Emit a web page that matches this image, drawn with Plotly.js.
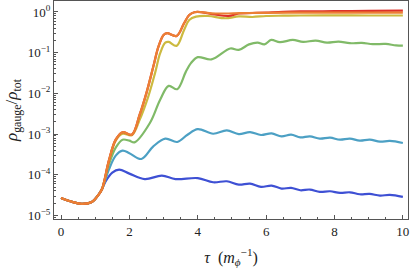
<!DOCTYPE html>
<html>
<head>
<meta charset="utf-8">
<script src="https://cdn.plot.ly/plotly-3.0.1.min.js"></script>
<style>html,body{margin:0;padding:0;background:#fff;}#chart{width:411px;height:268px;}</style>
</head>
<body>
<div id="chart"></div>
<script>
// Shared early evolution (all curves coincide before branching)
const tCommon = [0, 0.3, 0.6, 0.9, 1.1, 1.2];
const vCommon = [2.69e-5, 2.20e-5, 1.94e-5, 2.14e-5, 3.27e-5, 4.47e-5];

const tBlue = [1.3,1.5,1.7,2.0,2.45,2.95,3.35,4.0,4.45,4.85,5.2,5.53,5.85,6.16,6.45,6.73,7.0,7.28,7.57,7.87,8.16,8.45,8.74,9.03,9.33,9.62,10];
const vBlue = [6.81e-5,1.13e-4,1.34e-4,1.07e-4,7.85e-5,9.55e-5,7.85e-5,8.30e-5,6.55e-5,6.93e-5,5.75e-5,6.08e-5,5.05e-5,5.43e-5,4.59e-5,4.78e-5,4.17e-5,4.34e-5,3.81e-5,3.94e-5,3.60e-5,3.72e-5,3.33e-5,3.40e-5,3.09e-5,3.21e-5,2.87e-5];

const tTeal = [1.4,1.6,1.8,2.0,2.35,2.7,3.05,3.4,3.7,4.0,4.45,4.85,5.2,5.53,5.85,6.16,6.45,6.73,7.0,7.28,7.57,7.87,8.16,8.45,8.74,9.03,9.33,9.62,10];
const vTeal = [1.34e-4,2.96e-4,3.92e-4,3.40e-4,2.45e-4,5.0e-4,7.71e-4,6.40e-4,9.66e-4,1.33e-3,1.02e-3,1.23e-3,1.00e-3,1.12e-3,9.51e-4,1.04e-3,8.79e-4,9.66e-4,8.30e-4,8.79e-4,7.71e-4,8.16e-4,7.29e-4,7.71e-4,6.89e-4,7.29e-4,6.51e-4,6.78e-4,6.05e-4];

const tGreen = [1.4,1.6,1.8,2.0,2.15,2.6,2.9,3.15,3.4,3.65,3.8,4.0,4.4,4.95,5.2,5.5,5.75,5.95,6.15,6.4,6.78,7.08,7.45,7.78,8.12,8.45,8.8,9.12,9.5,9.8,10];
const vGreen = [1.78e-4,4.64e-4,7.29e-4,6.89e-4,6.26e-4,1.87e-3,6.97e-3,1.53e-2,1.27e-2,3.38e-2,5.53e-2,7.76e-2,6.85e-2,0.127,0.117,0.160,0.177,0.160,0.206,0.181,0.206,0.184,0.198,0.177,0.187,0.171,0.174,0.162,0.164,0.151,0.149];

const tYellow = [1.4,1.6,1.8,2.07,2.3,2.55,2.75,2.9,3.05,3.15,3.38,3.6,3.75,3.95,4.3,4.8,5.2,5.6,6.0,6.5,7,8,9,10];
const vYellow = [2.11e-4,6.89e-4,1.02e-3,9.40e-4,2.25e-3,8.25e-3,3.15e-2,9.72e-2,0.177,0.184,0.147,0.362,0.637,0.767,0.798,0.701,0.776,0.754,0.798,0.811,0.821,0.830,0.821,0.821];

const tOrange = [1.4,1.6,1.8,2.07,2.3,2.5,2.7,2.85,3.0,3.1,3.38,3.6,3.75,3.9,4.1,4.4,4.9,5.5,6,7,8,9,10];
const vOrange = [2.23e-4,7.29e-4,1.11e-3,9.66e-4,2.99e-3,1.03e-2,4.56e-2,0.141,0.273,0.301,0.258,0.529,0.844,0.989,0.993,0.929,0.919,0.945,0.956,0.962,0.962,0.962,0.962];

const tRed = [1.4,1.6,1.8,2.07,2.3,2.5,2.7,2.85,3.0,3.1,3.38,3.6,3.75,3.9,4.1,4.5,4.9,5.2,5.6,6.0,6.5,7,8,9,10];
const vRed = [2.23e-4,7.29e-4,1.11e-3,9.66e-4,2.99e-3,1.03e-2,4.56e-2,0.141,0.273,0.301,0.258,0.529,0.844,0.989,0.993,0.868,0.798,0.919,0.945,0.972,1.01,1.03,1.05,1.06,1.08];

const yTickVals = [1e-5, 1e-4, 1e-3, 1e-2, 1e-1, 1];
const yTickText = ['10<sup>−5</sup>','10<sup>−4</sup>','10<sup>−3</sup>','10<sup>−2</sup>','10<sup>−1</sup>','10<sup>0</sup>'];
const xTickVals = [0, 2, 4, 6, 8, 10];

const series = [
  {t: tBlue, v: vBlue, color: 'rgb(62,80,212)'},
  {t: tTeal, v: vTeal, color: 'rgb(76,160,196)'},
  {t: tGreen, v: vGreen, color: 'rgb(128,186,104)'},
  {t: tYellow, v: vYellow, color: 'rgb(204,186,64)'},
  {t: tRed, v: vRed, color: 'rgb(222,48,40)'},
  {t: tOrange, v: vOrange, color: 'rgb(236,128,52)'}
];

const traces = series.map(s => ({
  x: tCommon.concat(s.t),
  y: vCommon.concat(s.v),
  type: 'scatter',
  mode: 'lines',
  line: {color: s.color, width: 2.2, shape: 'spline', smoothing: 1},
  hoverinfo: 'skip'
}));

const frame = '#555';
const family = 'Liberation Serif, Times New Roman, serif';
const font = {family: family, size: 13, color: '#222'};

const layout = {
  width: 411, height: 268,
  margin: {l: 54, r: 3, t: 1, b: 49},
  paper_bgcolor: '#fff', plot_bgcolor: '#fff',
  showlegend: false,
  font: font,
  xaxis: {
    range: [-0.205, 10.15],
    tickmode: 'array', tickvals: xTickVals,
    ticks: 'inside', ticklen: 4, tickwidth: 1, tickcolor: frame,
    showline: true, mirror: true, linecolor: frame, linewidth: 1,
    showgrid: false, zeroline: false,
    minor: {dtick: 0.5, ticks: 'inside', ticklen: 2, tickcolor: frame, showgrid: false},
    tickfont: font,
    title: {text: '<i>τ</i>  (<i>m</i><sub><i>ϕ</i></sub><sup>−1</sup>)', font: {family: family, size: 16, color: '#222'}, standoff: 15}
  },
  yaxis: {
    type: 'log',
    range: [-5.086, 0.27],
    tickmode: 'array', tickvals: yTickVals, ticktext: yTickText,
    ticks: 'inside', ticklen: 4, tickwidth: 1, tickcolor: frame,
    showline: true, mirror: true, linecolor: frame, linewidth: 1,
    showgrid: false, zeroline: false,
    minor: {dtick: 'D1', ticks: 'inside', ticklen: 2, tickcolor: frame, showgrid: false},
    tickfont: font,
    title: {text: '<i>ρ</i><sub>gauge</sub>/<i>ρ</i><sub>tot</sub>', font: {family: family, size: 17, color: '#222'}, standoff: 5}
  }
};

Plotly.newPlot('chart', traces, layout, {staticPlot: true, displayModeBar: false});
</script>
</body>
</html>
